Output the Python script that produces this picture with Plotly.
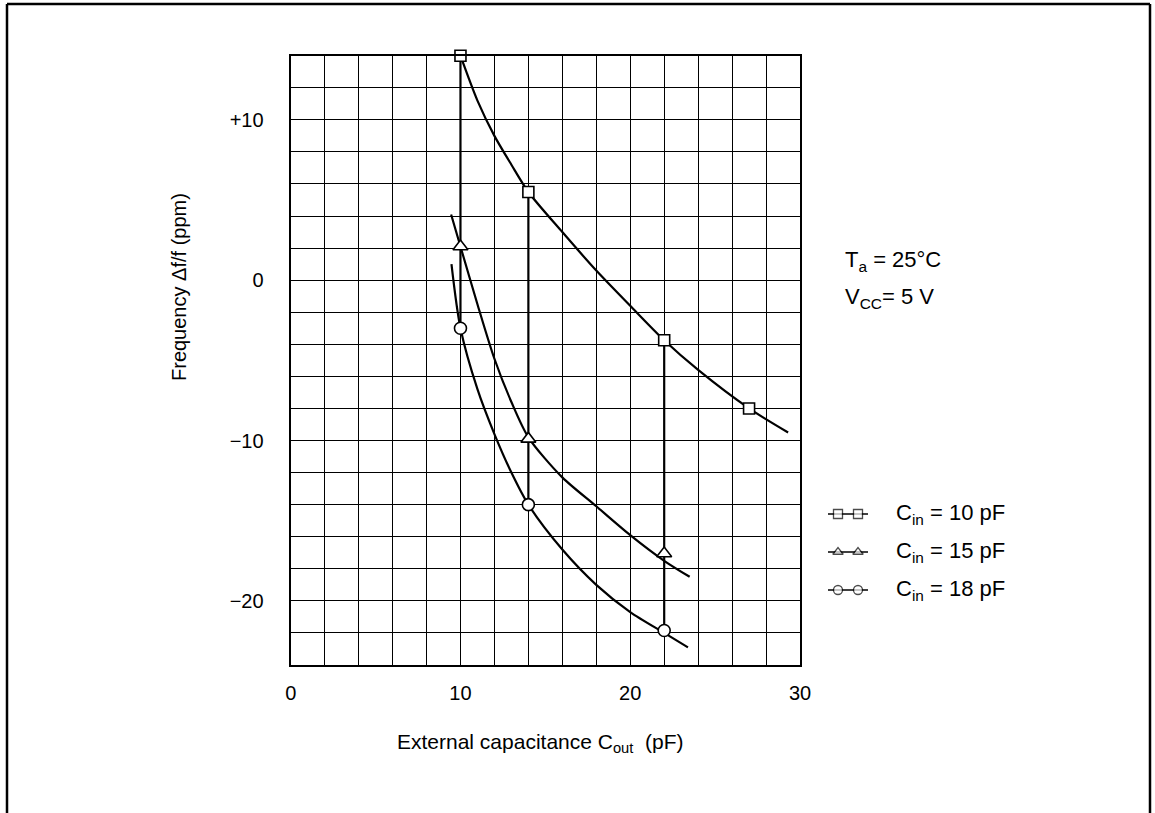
import plotly.graph_objects as go

# ---------------- data ----------------
cin10_x = [10, 14, 22, 27]
cin10_y = [14.0, 5.5, -3.75, -8.0]
cin15_x = [10, 14, 22]
cin15_y = [2.1, -9.9, -17.05]
cin18_x = [10, 14, 22]
cin18_y = [-3.0, -14.0, -21.85]

# traced points along the drawn characteristic curves
fit10_x = [10, 11, 12, 13, 14, 16, 18, 20, 22, 24, 27, 29.3]
fit10_y = [14.0, 11.2, 9.0, 7.2, 5.5, 3.0, 0.6, -1.6, -3.75, -5.6, -8.0, -9.5]
fit15_x = [9.45, 10, 11, 12, 13, 14, 16, 18, 20, 22, 23.5]
fit15_y = [4.1, 2.1, -1.5, -4.9, -7.6, -9.8, -12.3, -14.1, -15.9, -17.5, -18.5]
fit18_x = [9.47, 10, 11, 12, 13, 14, 16, 18, 20, 22, 23.4]
fit18_y = [1.0, -3.0, -6.8, -9.6, -12.0, -14.0, -16.8, -19.0, -20.7, -22.0, -22.9]

series_names = ["C<sub>in</sub> = 10 pF", "C<sub>in</sub> = 15 pF", "C<sub>in</sub> = 18 pF"]
series_symbols = ["square", "triangle-up", "circle"]

x_tick_vals = [0, 10, 20, 30]
x_tick_text = ["0", "10", "20", "30"]
y_tick_vals = [-20, -10, 0, 10]
y_tick_text = ["\u221220", "\u221210", "0", "+10"]
x_range = [0, 30]
y_range = [-24, 14]
grid_step = 2

x_title = "External capacitance C<sub>out</sub>  (pF)"
y_title = "Frequency \u0394f/f (ppm)"
cond_lines = ["T<sub>a</sub> = 25\u00b0C", "V<sub>CC</sub>= 5 V"]

# ---------------- layout geometry (pixels) ----------------
W, H = 1155, 813
PL, PR, PT, PB = 290.7, 800.0, 55.7, 665.0
FONT = "Liberation Sans, Arial, Helvetica, sans-serif"
FS = 20


def px(x):
    return x / W


def py(y):
    return 1 - y / H


fig = go.Figure()

series = [
    (cin10_x, cin10_y, fit10_x, fit10_y),
    (cin15_x, cin15_y, fit15_x, fit15_y),
    (cin18_x, cin18_y, fit18_x, fit18_y),
]

# vertical connector lines where several series share an x value
all_x = sorted(set(cin10_x) | set(cin15_x) | set(cin18_x))
for xv in all_x:
    vals = [ys[xs.index(xv)] for xs, ys, _, _ in series if xv in xs]
    if len(vals) > 1:
        fig.add_trace(go.Scatter(x=[xv, xv], y=[max(vals), min(vals)], mode="lines",
                                 line=dict(color="black", width=2.2),
                                 showlegend=False, hoverinfo="skip", cliponaxis=False))

# curves
for (_, _, fx, fy) in series:
    fig.add_trace(go.Scatter(x=fx, y=fy, mode="lines",
                             line=dict(color="black", width=2.2, shape="spline", smoothing=0.8),
                             showlegend=False, hoverinfo="skip", cliponaxis=False))

# measured points
msize = {"square": 11, "triangle-up": 13, "circle": 12}
for (xs, ys, _, _), sym, name in zip(series, series_symbols, series_names):
    fig.add_trace(go.Scatter(x=xs, y=ys, mode="markers", name=name,
                             marker=dict(symbol=sym, size=msize[sym], color="white",
                                         line=dict(color="black", width=1.6)),
                             showlegend=False, cliponaxis=False))

# custom legend (pixel overlay axes)
legend_rows = [514, 552, 590]
for row, sym, name in zip(legend_rows, series_symbols, series_names):
    fig.add_trace(go.Scatter(x=[828, 838, 858, 868], y=[row] * 4, mode="lines+markers",
                             xaxis="x2", yaxis="y2",
                             line=dict(color="black", width=1.3),
                             marker=dict(symbol=sym, size=[0, 9, 9, 0], color="white",
                                         line=dict(color="black", width=1.3)),
                             showlegend=False, hoverinfo="skip", cliponaxis=False))

annotations = []
for row, name in zip(legend_rows, series_names):
    annotations.append(dict(x=px(894), y=py(row), xref="paper", yref="paper", text=name,
                            showarrow=False, xanchor="left", yanchor="middle",
                            font=dict(family=FONT, size=22, color="black")))
for row, txt in zip([261, 298], cond_lines):
    annotations.append(dict(x=px(843), y=py(row), xref="paper", yref="paper", text=txt,
                            showarrow=False, xanchor="left", yanchor="middle",
                            font=dict(family=FONT, size=22, color="black")))
annotations.append(dict(x=px(540), y=py(743), xref="paper", yref="paper", text=x_title,
                        showarrow=False, xanchor="center", yanchor="middle",
                        font=dict(family=FONT, size=21, color="black")))
annotations.append(dict(x=px(179), y=py(287), xref="paper", yref="paper", text=y_title,
                        showarrow=False, xanchor="center", yanchor="middle", textangle=-90,
                        font=dict(family=FONT, size=FS, color="black")))

grid_common = dict(showgrid=True, gridcolor="black", gridwidth=1.2, zeroline=False,
                   showline=True, linecolor="black", linewidth=2.2, mirror=True,
                   ticks="outside", tickcolor="rgba(0,0,0,0)",
                   tickfont=dict(family=FONT, size=FS, color="black"),
                   fixedrange=True)

fig.update_layout(
    width=W, height=H,
    margin=dict(l=0, r=0, t=0, b=0),
    paper_bgcolor="white", plot_bgcolor="rgba(0,0,0,0)",
    showlegend=False,
    xaxis=dict(domain=[px(PL), px(PR)], range=x_range, tickmode="array",
               tickvals=x_tick_vals, ticktext=x_tick_text, ticklen=9, automargin=False,
               minor=dict(tickmode="linear", tick0=0, dtick=grid_step, showgrid=True,
                          gridcolor="black", gridwidth=1.2, ticks=""),
               **grid_common),
    yaxis=dict(domain=[py(PB), py(PT)], range=y_range, tickmode="array",
               tickvals=y_tick_vals, ticktext=y_tick_text, ticklen=21, automargin=False,
               minor=dict(tickmode="linear", tick0=0, dtick=grid_step, showgrid=True,
                          gridcolor="black", gridwidth=1.2, ticks=""),
               **grid_common),
    xaxis2=dict(domain=[0, 1], range=[0, W], visible=False, anchor="y2", fixedrange=True),
    yaxis2=dict(domain=[0, 1], range=[H, 0], visible=False, anchor="x2", fixedrange=True),
    annotations=annotations,
    shapes=[
        dict(type="line", xref="paper", yref="paper", x0=px(7), x1=px(7), y0=py(4), y1=py(820),
             line=dict(color="black", width=2.5)),
        dict(type="line", xref="paper", yref="paper", x0=px(7), x1=px(1150), y0=py(4), y1=py(4),
             line=dict(color="black", width=2.5)),
        dict(type="line", xref="paper", yref="paper", x0=px(1150), x1=px(1150), y0=py(4), y1=py(820),
             line=dict(color="black", width=2.5)),
    ],
)

fig.write_html("out.html")
